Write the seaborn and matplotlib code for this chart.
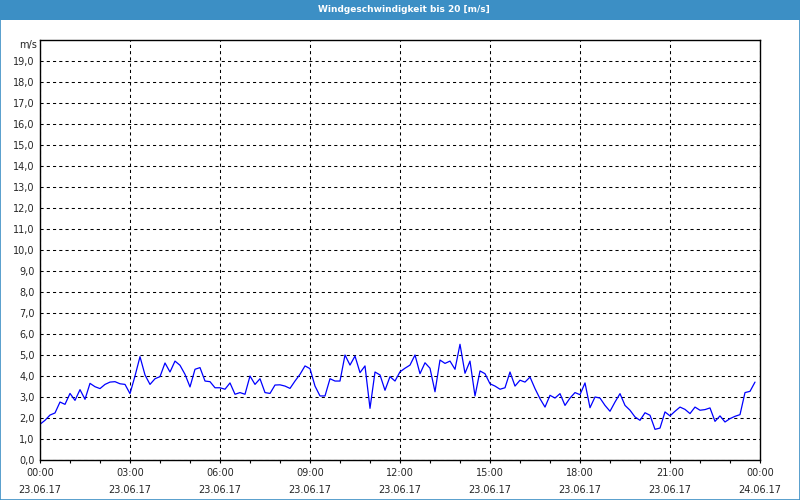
import pandas as pd
import matplotlib
matplotlib.use("Agg")
import matplotlib.pyplot as plt
import matplotlib.dates as mdates
from matplotlib.patches import Rectangle
from matplotlib.ticker import FuncFormatter
import seaborn as sns

# Messwerte alle 10 Minuten, 23.06.17 00:00 bis 23:50
speed = [1.70, 1.89, 2.14, 2.24, 2.76, 2.65, 3.17, 2.84, 3.35, 2.89,
         3.65, 3.49, 3.40, 3.60, 3.71, 3.73, 3.63, 3.60, 3.16, 4.00,
         4.92, 4.05, 3.60, 3.87, 3.97, 4.62, 4.19, 4.71, 4.51, 4.08,
         3.48, 4.32, 4.40, 3.76, 3.73, 3.44, 3.44, 3.37, 3.67, 3.13,
         3.21, 3.13, 4.00, 3.60, 3.87, 3.21, 3.17, 3.57, 3.58, 3.52,
         3.41, 3.76, 4.08, 4.48, 4.35, 3.52, 3.05, 3.05, 3.87, 3.76,
         3.76, 5.00, 4.52, 4.95, 4.16, 4.48, 2.46, 4.19, 4.05, 3.32,
         3.97, 3.76, 4.20, 4.37, 4.52, 5.00, 4.11, 4.63, 4.37, 3.25,
         4.76, 4.60, 4.71, 4.32, 5.51, 4.13, 4.71, 3.05, 4.24, 4.11,
         3.63, 3.52, 3.37, 3.44, 4.19, 3.52, 3.80, 3.71, 3.95, 3.40,
         2.92, 2.52, 3.08, 2.95, 3.16, 2.60, 2.95, 3.21, 3.11, 3.67,
         2.49, 3.00, 2.95, 2.60, 2.32, 2.76, 3.16, 2.60, 2.37, 2.05,
         1.89, 2.25, 2.13, 1.46, 1.52, 2.29, 2.10, 2.32, 2.52, 2.41,
         2.21, 2.52, 2.37, 2.40, 2.48, 1.84, 2.10, 1.81, 1.97, 2.08,
         2.16, 3.21, 3.27, 3.71]
times = pd.date_range("2017-06-23 00:00", periods=len(speed), freq="10min")
y_ticks = list(range(0, 20))
title = "Windgeschwindigkeit bis 20 [m/s]"
unit = "m/s"

df = pd.DataFrame({"Zeit": times, "Wind": speed})

sns.set_style("white")
plt.rcParams["font.family"] = ["DejaVu Sans"]

fig = plt.figure(figsize=(8, 5), dpi=100)
ax = fig.add_axes([40 / 800, 40 / 500, 720 / 800, 420 / 500])

sns.lineplot(data=df, x="Zeit", y="Wind", ax=ax, color="#0000ff", linewidth=0.9)

# Achsen
ax.set_xlim(pd.Timestamp("2017-06-23 00:00"), pd.Timestamp("2017-06-24 00:00"))
ax.set_ylim(0, 20)
ax.set_xlabel("")
ax.set_ylabel("")
ax.set_yticks(y_ticks)
ax.yaxis.set_major_formatter(FuncFormatter(lambda v, p: f"{v:.1f}".replace(".", ",")))
ax.xaxis.set_major_locator(mdates.HourLocator(byhour=range(0, 24, 3)))
ax.xaxis.set_minor_locator(mdates.HourLocator())
ax.xaxis.set_major_formatter(mdates.DateFormatter("%H:%M\n%d.%m.%y"))

ax.grid(True, color="black", linestyle=(0, (3, 3)), linewidth=0.75)
for s in ax.spines.values():
    s.set_visible(True)
    s.set_color("black")
    s.set_linewidth(1.0)

ax.tick_params(axis="x", which="both", direction="out", length=2.5, width=0.8,
               color="black", labelsize=7, pad=3, bottom=True)
ax.tick_params(axis="y", which="both", length=0, labelsize=7, pad=4, left=True)
ax.text(-0.004, 20, unit, transform=ax.get_yaxis_transform(), ha="right", va="top",
        fontsize=7)

# Titelleiste
fig.patches.append(Rectangle((0, 1 - 20 / 500), 1, 20 / 500, transform=fig.transFigure,
                             facecolor="#3c8fc5", edgecolor="none", zorder=0))
fig.patches.append(Rectangle((0.0006, 0.001), 0.9988, 0.998, transform=fig.transFigure,
                             facecolor="none", edgecolor="#3c8fc5", linewidth=1.2, zorder=0))
fig.text(0.505, 1 - 9 / 500, title, color="white", fontsize=6.5, fontweight="bold",
         ha="center", va="center")

fig.canvas.draw()
for tl in ax.get_xticklabels():
    tl.set_linespacing(1.9)

plt.savefig("out.png", dpi=100)
